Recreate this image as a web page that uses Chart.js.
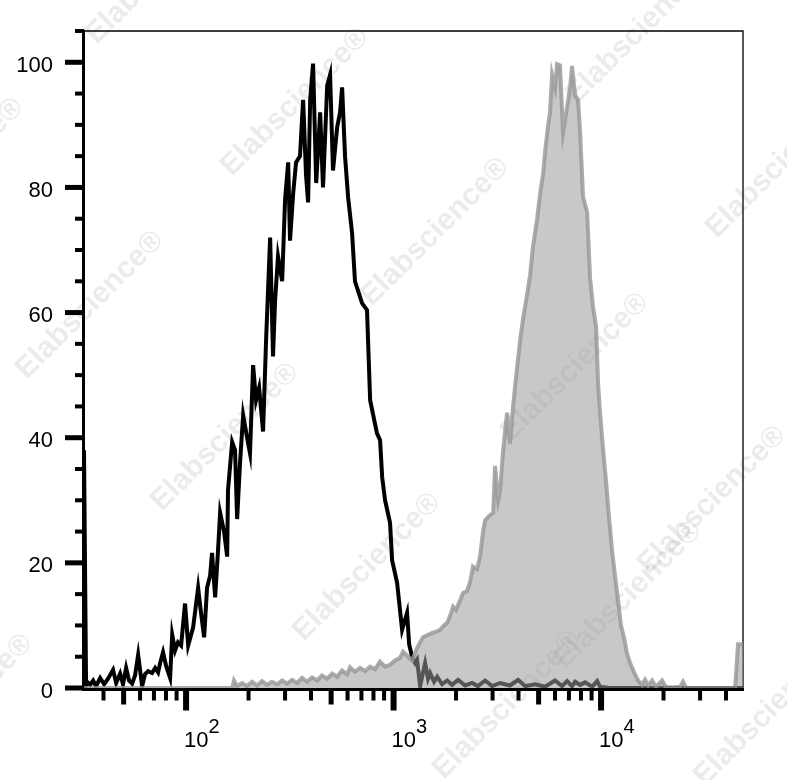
<!DOCTYPE html>
<html><head><meta charset="utf-8">
<script src="https://cdn.jsdelivr.net/npm/chart.js@4.4.1/dist/chart.umd.min.js"></script>
<style>html,body{margin:0;padding:0;background:#fff;}canvas{display:block;}</style>
</head><body>
<canvas id="c" width="787" height="780"></canvas>
<script>
// log10 of fluorescence intensity (bin positions) and event counts (% of max)
const blackLogFL = [1.508,1.518,1.523,1.537,1.552,1.566,1.586,1.605,1.624,1.648,1.663,1.682,1.696,1.711,1.725,1.740,1.754,1.769,1.788,1.802,1.817,1.836,1.851,1.865,1.875,1.889,1.904,1.923,1.933,1.947,1.961,1.976,1.995,2.010,2.034,2.058,2.072,2.087,2.101,2.116,2.125,2.140,2.154,2.164,2.183,2.198,2.202,2.222,2.236,2.246,2.260,2.275,2.294,2.308,2.323,2.337,2.352,2.371,2.386,2.405,2.419,2.429,2.443,2.463,2.477,2.492,2.501,2.516,2.530,2.549,2.564,2.578,2.588,2.598,2.612,2.627,2.646,2.660,2.680,2.694,2.708,2.728,2.742,2.752,2.766,2.781,2.800,2.814,2.848,2.872,2.887,2.920,2.935,2.945,2.959,2.983,2.993,3.017,3.041,3.065,3.075,3.089,3.104,3.113,3.128,3.142,3.152,3.166,3.176,3.195,3.210,3.234,3.258,3.282,3.311,3.345,3.378,3.407,3.441,3.475,3.513,3.561,3.600,3.634,3.682,3.730,3.778,3.812,3.836,3.860,3.875,3.899,3.923,3.957,3.981,3.995,4.043,4.684];
const blackCounts = [38,0.5,1,0.5,1.2,0.3,1.6,0.6,1.5,2.9,0.8,2.3,0.6,3.2,1.2,0.7,2,5.3,0.3,2.2,2.7,2.4,3.2,2.5,4,5.7,3.5,1.6,8.5,6,7.3,6.8,13.5,6.8,9.7,16,12,8.1,16,18,21.6,14.5,22,28,25,21,31.6,39.3,38,27,36,43.6,40,37.5,51.6,46,48,41,56,72,53,62,69,65,78,84,71.5,79,84,85,94,82,77.6,94,99.8,80.7,92,80,96.3,98,82.7,89.6,92,96,85,78.4,72.7,65,61.5,60.4,46,40.7,39.6,33.7,30,26.4,20.4,16.8,9.3,12,7,5,4,4.5,0.3,2.5,4,1.5,2.4,1,1.8,0.6,1.2,0.5,1.3,0.4,0.8,0.3,1.2,0.3,0.8,0.4,1.3,0.3,0.6,0.2,1.2,0.3,1.1,0.3,1,0.5,0.9,0.2,1.1,0.2,0,0];
const grayLogFL = [1.508,2.222,2.231,2.246,2.270,2.294,2.318,2.342,2.366,2.390,2.414,2.439,2.463,2.487,2.511,2.535,2.559,2.583,2.607,2.631,2.655,2.680,2.704,2.728,2.752,2.776,2.790,2.814,2.839,2.863,2.887,2.911,2.935,2.959,2.983,3.007,3.031,3.046,3.070,3.089,3.108,3.128,3.142,3.166,3.186,3.205,3.224,3.243,3.258,3.272,3.287,3.301,3.320,3.335,3.354,3.369,3.383,3.402,3.417,3.431,3.441,3.460,3.480,3.489,3.504,3.513,3.528,3.547,3.561,3.576,3.586,3.610,3.624,3.643,3.658,3.672,3.692,3.706,3.720,3.730,3.745,3.754,3.764,3.778,3.788,3.802,3.817,3.836,3.851,3.860,3.875,3.889,3.899,3.913,3.933,3.947,3.961,3.976,3.986,3.995,4.010,4.024,4.039,4.053,4.067,4.082,4.096,4.111,4.125,4.140,4.159,4.178,4.198,4.212,4.227,4.246,4.265,4.294,4.313,4.342,4.381,4.395,4.410,4.646,4.660,4.684];
const grayCounts = [0,0,1.2,0.3,0.8,0.3,1,0.4,1.1,0.5,1,0.6,1.2,0.7,1.3,0.8,1.6,1,1.7,1.2,2,1.5,2.3,1.8,2.8,2.2,3.3,2.6,3.2,2.7,3.4,3,4.2,3.4,3.7,4.4,4.8,5.8,5,4.4,6,7.3,8.1,8.5,8.8,9,9.3,10,10.4,11.5,13,12.5,14,15.2,15.5,17,19.4,19,21,25,26.8,27.5,28,35.5,30,31.5,38,44,39,45,48.4,55.6,59,62.8,66,70.6,75,79,82,85.6,90,92,98,96,99.7,99.5,88.8,92.8,96,99.4,94.7,94,88.8,78.5,76,65.5,61,57.7,48.4,44,38,33,27,22,18,14,10,8,5.5,4,2.5,1.2,0.5,1.3,0.4,1.2,0.2,1.2,0.1,0.1,0.2,1,0,0,7,7];

const xRangeLog = [1.508, 4.684];
const yRange = [0, 105];
const yTickValues = [0, 20, 40, 60, 80, 100];
const yTickLabels = ['0', '20', '40', '60', '80', '100'];
const xDecades = [2, 3, 4];
const xDecadeLabels = ['10', '10', '10'];
const xDecadeExponents = ['2', '3', '4'];
const watermarkText = 'Elabscience\u00AE';
const watermarkSpots = [[160,-30],[295,102],[435,232],[575,367],[712,500],[-50,172],[90,305],[225,437],[367,567],[507,705],[640,30],[780,164],[628,595],[-41,708],[768,712]];

const toPoints = (xs, ys) => xs.map((v, i) => ({ x: Math.pow(10, v), y: ys[i] }));

const FONT = '"Liberation Sans", Arial, sans-serif';

const axesPlugin = {
  id: 'flowAxes',
  beforeDatasetsDraw(chart) {
    const { ctx, chartArea: a, scales: { x, y } } = chart;
    ctx.save();
    // watermark
    ctx.fillStyle = 'rgba(0,0,0,0.08)';
    ctx.font = 'bold 30px ' + FONT;
    ctx.textAlign = 'center';
    ctx.textBaseline = 'middle';
    watermarkSpots.forEach(([cx, cy]) => {
      ctx.save();
      ctx.translate(cx, cy);
      ctx.rotate(-Math.PI / 4);
      ctx.fillText(watermarkText, 0, 0);
      ctx.restore();
    });
    ctx.fillStyle = '#000';
    ctx.strokeStyle = '#000';
    // thin frame top and right
    ctx.lineWidth = 1.3;
    ctx.beginPath();
    ctx.moveTo(a.left, a.top);
    ctx.lineTo(a.right, a.top);
    ctx.lineTo(a.right, a.bottom);
    ctx.stroke();
    // thick left and bottom axis lines
    ctx.fillRect(a.left - 2, a.top - 1, 3, a.bottom - a.top + 4);
    ctx.fillRect(a.left - 2, a.bottom, a.right - a.left + 3, 3);
    // y ticks
    for (let v = yRange[0]; v <= yRange[1]; v += 5) {
      const py = y.getPixelForValue(v);
      if (yTickValues.includes(v)) ctx.fillRect(a.left - 19, py - 2.5, 19, 5);
      else ctx.fillRect(a.left - 9, py - 2, 9, 4);
    }
    // y labels
    ctx.font = '22px ' + FONT;
    ctx.textAlign = 'right';
    ctx.textBaseline = 'alphabetic';
    yTickValues.forEach((v, i) => {
      ctx.fillText(yTickLabels[i], 53, y.getPixelForValue(v) + 9.5);
    });
    // x ticks (decades, fives, other minors)
    const base = a.bottom + 2.5;
    for (let n = 1; n <= 4; n++) {
      for (let k = 1; k <= 9; k++) {
        const val = k * Math.pow(10, n);
        if (val < x.min || val > x.max) continue;
        const px = x.getPixelForValue(val);
        if (k === 1) ctx.fillRect(px - 3, base, 6, 20);
        else if (k === 5) ctx.fillRect(px - 2.5, base, 5, 14);
        else ctx.fillRect(px - 2, base, 4, 10);
      }
    }
    // x labels 10^n
    ctx.textAlign = 'left';
    xDecades.forEach((d, i) => {
      const px = x.getPixelForValue(Math.pow(10, d));
      ctx.font = '22px ' + FONT;
      ctx.fillText(xDecadeLabels[i], px - 2, 747);
      const w = ctx.measureText(xDecadeLabels[i]).width;
      ctx.font = '20px ' + FONT;
      ctx.fillText(xDecadeExponents[i], px - 2 + w, 733);
    });
    ctx.restore();
  }
};

new Chart(document.getElementById('c').getContext('2d'), {
  type: 'line',
  data: {
    datasets: [
      {
        label: 'Stained',
        data: toPoints(grayLogFL, grayCounts),
        borderColor: 'rgba(150,150,150,0.8)',
        backgroundColor: 'rgba(155,155,155,0.55)',
        fill: 'origin',
        borderWidth: 4,
        pointRadius: 0,
        tension: 0
      },
      {
        label: 'Control',
        data: toPoints(blackLogFL, blackCounts),
        borderColor: '#000',
        borderWidth: 4,
        fill: false,
        pointRadius: 0,
        tension: 0
      }
    ]
  },
  options: {
    responsive: false,
    animation: false,
    devicePixelRatio: 1,
    layout: { padding: { left: 84, top: 31, right: 44, bottom: 92 } },
    plugins: { legend: { display: false }, tooltip: { enabled: false } },
    scales: {
      x: { type: 'logarithmic', min: Math.pow(10, xRangeLog[0]), max: Math.pow(10, xRangeLog[1]), display: false },
      y: { type: 'linear', min: yRange[0], max: yRange[1], display: false }
    }
  },
  plugins: [axesPlugin]
});
</script>
</body></html>
